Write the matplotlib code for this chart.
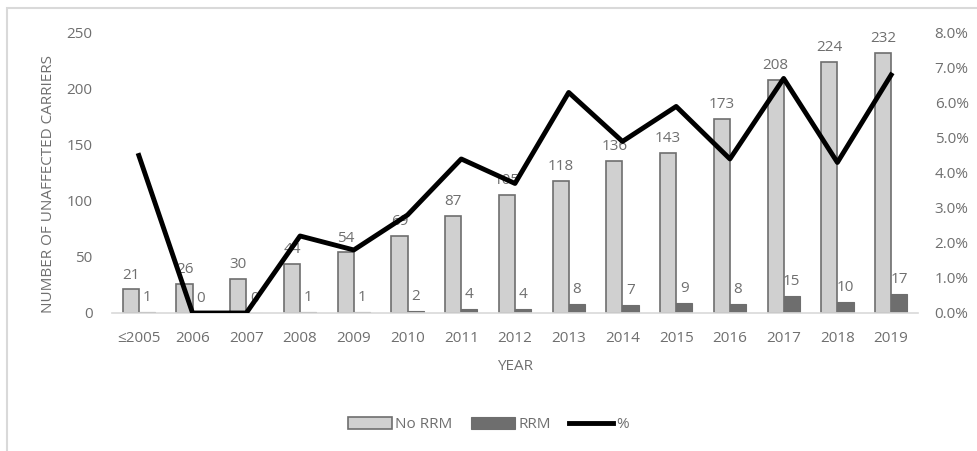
import matplotlib
matplotlib.use("Agg")
from matplotlib import pyplot as plt
from matplotlib.patches import Rectangle
from matplotlib.ticker import FuncFormatter
import numpy as np

plt.rcParams['font.family'] = ['Open Sans', 'DejaVu Sans']

# datos
anios = ['≤2005', '2006', '2007', '2008', '2009', '2010', '2011', '2012',
         '2013', '2014', '2015', '2016', '2017', '2018', '2019']
no_rrm = [21, 26, 30, 44, 54, 69, 87, 105, 118, 136, 143, 173, 208, 224, 232]
rrm = [1, 0, 0, 1, 1, 2, 4, 4, 8, 7, 9, 8, 15, 10, 17]
porcentaje = [4.5, 0.0, 0.0, 2.2, 1.8, 2.8, 4.4, 3.7, 6.3, 4.9, 5.9, 4.4, 6.7, 4.3, 6.8]

gris_txt = '#6f6f6f'
fs = 11
x = np.arange(len(anios))
ancho = 0.3

fig = plt.figure(figsize=(9.77, 4.51), dpi=100)
ax = fig.add_axes([0.1146, 0.306, 0.825, 0.621])

b1 = ax.bar(x - ancho / 2, no_rrm, ancho, color='#d0d0d0', edgecolor='#6e6e6e',
            linewidth=1.2, label='No RRM', zorder=2)
b2 = ax.bar(x + ancho / 2, rrm, ancho, color='#6e6e6e', edgecolor='#6e6e6e',
            linewidth=0.8, label='RRM', zorder=2)
ax.bar_label(b1, padding=5, color=gris_txt, fontsize=fs)
ax.bar_label(b2, padding=5, color=gris_txt, fontsize=fs)

ax.set_xlim(-0.5, len(anios) - 0.5)
ax.set_ylim(0, 250)
ax.set_yticks(range(0, 251, 50))
ax.set_xticks(x)
ax.set_xticklabels(anios)
for s in ['top', 'right', 'left']:
    ax.spines[s].set_visible(False)
ax.spines['bottom'].set_color('#d9d9d9')
ax.spines['bottom'].set_linewidth(1.2)
ax.tick_params(axis='both', length=0, colors=gris_txt, labelsize=fs)
ax.tick_params(axis='x', pad=13)
ax.tick_params(axis='y', pad=14)
ax.set_ylabel('NUMBER OF UNAFFECTED CARRIERS', color=gris_txt, fontsize=fs)
ax.yaxis.set_label_coords(-0.07, 0.46)
ax.set_xlabel('YEAR', color=gris_txt, fontsize=fs, labelpad=9)

ax2 = ax.twinx()
ax2.set_position(ax.get_position())
ln, = ax2.plot(x, porcentaje, color='black', linewidth=3.5, label='%', zorder=3)
ax2.set_ylim(0, 8)
ax2.set_yticks(np.arange(0, 8.1, 1))
ax2.yaxis.set_major_formatter(FuncFormatter(lambda v, p: f'{v:.1f}%'))
for s in ax2.spines.values():
    s.set_visible(False)
ax2.tick_params(axis='y', length=0, colors=gris_txt, labelsize=fs, pad=12)

fig.legend(handles=[b1, b2, ln], labels=['No RRM', 'RRM', '%'], loc='center',
           bbox_to_anchor=(0.5, 0.058), ncol=3, frameon=False, fontsize=fs,
           handlelength=2.9, handleheight=0.8, handletextpad=0.2, columnspacing=1.2,
           labelcolor=gris_txt)

fig.patches.append(Rectangle((0.007, -0.02), 1.1, 1.002, transform=fig.transFigure,
                             fill=False, edgecolor='#d9d9d9', linewidth=1.5))

plt.savefig('out.png', dpi=100)
